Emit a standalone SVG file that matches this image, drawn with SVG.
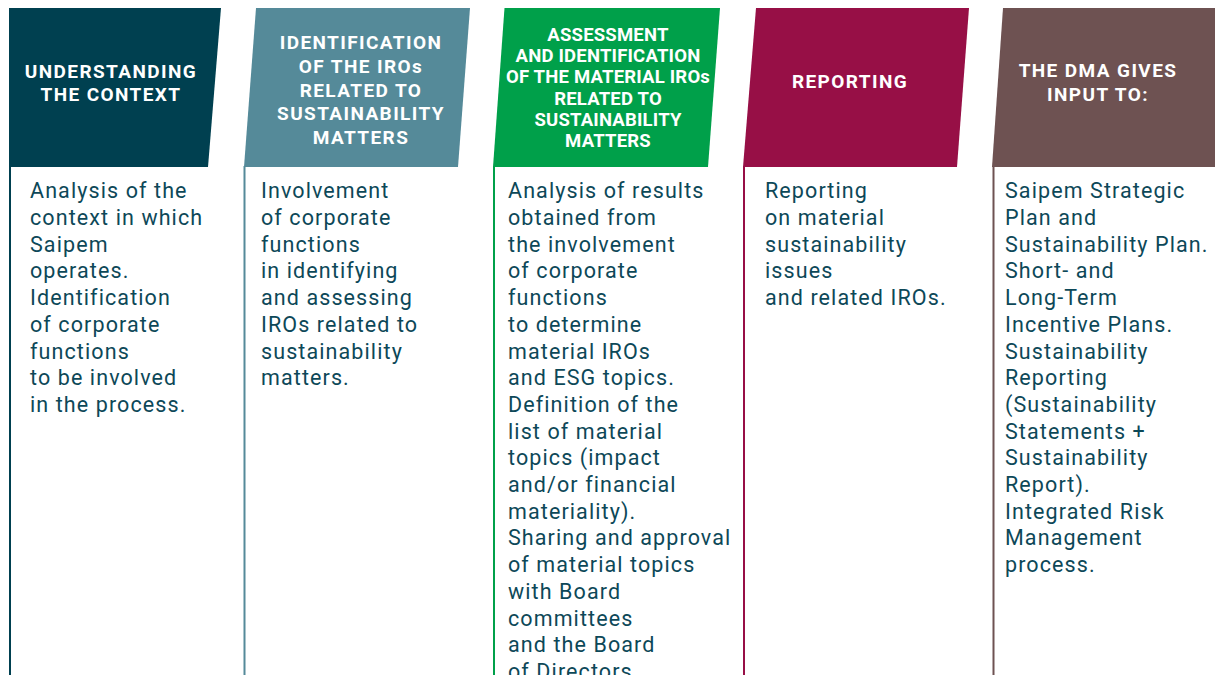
<svg xmlns="http://www.w3.org/2000/svg" width="1215" height="675" viewBox="0 0 1215 675">
<style>
.h{font-family:Roboto,"Liberation Sans",sans-serif;font-weight:700;font-size:19px;fill:#fff;text-anchor:middle;letter-spacing:1.4px}
.h3{font-size:18.5px;letter-spacing:0.2px}
.b{font-family:Roboto,"Liberation Sans",sans-serif;font-size:21.5px;fill:#0d4858;letter-spacing:1.1px}
.ln{stroke-width:2;fill:none}
</style>
<rect width="1215" height="675" fill="#fff"/>
<g id="connectors">
<line class="ln" x1="10" y1="166" x2="10" y2="675" stroke="#004050"/>
<line class="ln" x1="244.5" y1="166" x2="244.5" y2="675" stroke="#558a99"/>
<line class="ln" x1="494" y1="166" x2="494" y2="675" stroke="#00a04a"/>
<line class="ln" x1="744" y1="166" x2="744" y2="675" stroke="#970f46"/>
<line class="ln" x1="993.5" y1="166" x2="993.5" y2="675" stroke="#6e5252"/>
</g>
<g id="col1">
<polygon points="9,8 221,8 208,167 9,167" fill="#004050"/>
<text class="h" x="111" y="77.5">UNDERSTANDING</text>
<text class="h" x="111" y="101">THE CONTEXT</text>
<text class="b" x="30" y="198.3">
<tspan x="30" dy="0">Analysis of the</tspan>
<tspan x="30" dy="26.7">context in which</tspan>
<tspan x="30" dy="26.7">Saipem</tspan>
<tspan x="30" dy="26.7">operates.</tspan>
<tspan x="30" dy="26.7">Identification</tspan>
<tspan x="30" dy="26.7">of corporate</tspan>
<tspan x="30" dy="26.7">functions</tspan>
<tspan x="30" dy="26.7">to be involved</tspan>
<tspan x="30" dy="26.7">in the process.</tspan>
</text>
</g>
<g id="col2">
<polygon points="256,8 470,8 458,167 244,167" fill="#558a99"/>
<text class="h" x="361" y="49.3">IDENTIFICATION</text>
<text class="h" x="361" y="73">OF THE IROs</text>
<text class="h" x="361" y="96.7">RELATED TO</text>
<text class="h" x="361" y="120.3">SUSTAINABILITY</text>
<text class="h" x="361" y="144">MATTERS</text>
<text class="b" x="261" y="198.3">
<tspan x="261" dy="0">Involvement</tspan>
<tspan x="261" dy="26.7">of corporate</tspan>
<tspan x="261" dy="26.7">functions</tspan>
<tspan x="261" dy="26.7">in identifying</tspan>
<tspan x="261" dy="26.7">and assessing</tspan>
<tspan x="261" dy="26.7">IROs related to</tspan>
<tspan x="261" dy="26.7">sustainability</tspan>
<tspan x="261" dy="26.7">matters.</tspan>
</text>
</g>
<g id="col3">
<polygon points="504.5,8 720,8 708,167 493,167" fill="#00a04a"/>
<text class="h h3" x="608" y="40.7">ASSESSMENT</text>
<text class="h h3" x="608" y="62">AND IDENTIFICATION</text>
<text class="h h3" x="608" y="83.3">OF THE MATERIAL IROs</text>
<text class="h h3" x="608" y="104.6">RELATED TO</text>
<text class="h h3" x="608" y="125.9">SUSTAINABILITY</text>
<text class="h h3" x="608" y="147.2">MATTERS</text>
<text class="b" x="508" y="198.3">
<tspan x="508" dy="0">Analysis of results</tspan>
<tspan x="508" dy="26.7">obtained from</tspan>
<tspan x="508" dy="26.7">the involvement</tspan>
<tspan x="508" dy="26.7">of corporate</tspan>
<tspan x="508" dy="26.7">functions</tspan>
<tspan x="508" dy="26.7">to determine</tspan>
<tspan x="508" dy="26.7">material IROs</tspan>
<tspan x="508" dy="26.7">and ESG topics.</tspan>
<tspan x="508" dy="26.7">Definition of the</tspan>
<tspan x="508" dy="26.7">list of material</tspan>
<tspan x="508" dy="26.7">topics (impact</tspan>
<tspan x="508" dy="26.7">and/or financial</tspan>
<tspan x="508" dy="26.7">materiality).</tspan>
<tspan x="508" dy="26.7">Sharing and approval</tspan>
<tspan x="508" dy="26.7">of material topics</tspan>
<tspan x="508" dy="26.7">with Board</tspan>
<tspan x="508" dy="26.7">committees</tspan>
<tspan x="508" dy="26.7">and the Board</tspan>
<tspan x="508" dy="26.7">of Directors</tspan>
</text>
</g>
<g id="col4">
<polygon points="756,8 969,8 957,167 743,167" fill="#970f46"/>
<text class="h" x="850" y="88">REPORTING</text>
<text class="b" x="765" y="198.3">
<tspan x="765" dy="0">Reporting</tspan>
<tspan x="765" dy="26.7">on material</tspan>
<tspan x="765" dy="26.7">sustainability</tspan>
<tspan x="765" dy="26.7">issues</tspan>
<tspan x="765" dy="26.7">and related IROs.</tspan>
</text>
</g>
<g id="col5">
<polygon points="1003,8 1215,8 1215,167 992,167" fill="#6e5252"/>
<text class="h" x="1098" y="77.3">THE DMA GIVES</text>
<text class="h" x="1098" y="100.7">INPUT TO:</text>
<text class="b" x="1005" y="198.3">
<tspan x="1005" dy="0">Saipem Strategic</tspan>
<tspan x="1005" dy="26.7">Plan and</tspan>
<tspan x="1005" dy="26.7">Sustainability Plan.</tspan>
<tspan x="1005" dy="26.7">Short- and</tspan>
<tspan x="1005" dy="26.7">Long-Term</tspan>
<tspan x="1005" dy="26.7">Incentive Plans.</tspan>
<tspan x="1005" dy="26.7">Sustainability</tspan>
<tspan x="1005" dy="26.7">Reporting</tspan>
<tspan x="1005" dy="26.7">(Sustainability</tspan>
<tspan x="1005" dy="26.7">Statements +</tspan>
<tspan x="1005" dy="26.7">Sustainability</tspan>
<tspan x="1005" dy="26.7">Report).</tspan>
<tspan x="1005" dy="26.7">Integrated Risk</tspan>
<tspan x="1005" dy="26.7">Management</tspan>
<tspan x="1005" dy="26.7">process.</tspan>
</text>
</g>
</svg>
